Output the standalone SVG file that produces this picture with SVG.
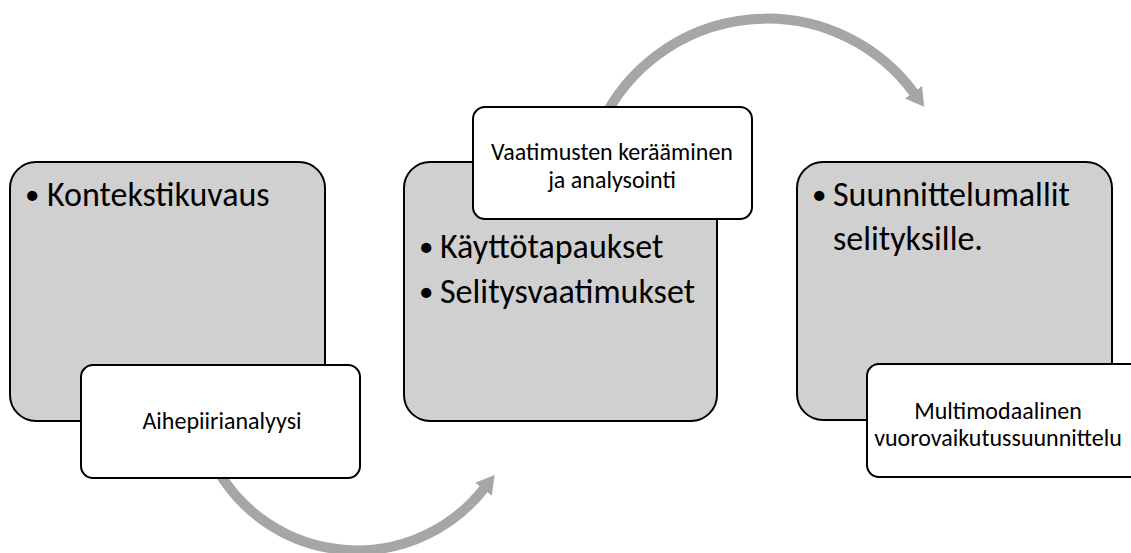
<svg xmlns="http://www.w3.org/2000/svg" width="1131" height="553" viewBox="0 0 1131 553">
<defs>
<marker id="head" markerUnits="userSpaceOnUse" markerWidth="18" markerHeight="22" viewBox="0 0 17 20" refX="0.5" refY="10" orient="auto">
<path d="M0,0 L17,10 L0,20 z" fill="#A6A6A6"/>
</marker>
<style>
.big{fill:#D0D0D0;stroke:#000;stroke-width:2}
.small{fill:#fff;stroke:#000;stroke-width:2}
.arc{fill:none;stroke:#A6A6A6;stroke-width:10;marker-end:url(#head)}
.t1{font-family:Carlito,Calibri,Lato,"Noto Sans",sans-serif;font-size:34px;fill:#000}
.b{font-size:29px}
.t2{font-family:Carlito,Calibri,Lato,"Noto Sans",sans-serif;font-size:24px;fill:#000;text-anchor:middle}
</style>
</defs>
<rect width="1131" height="553" fill="#fff"/>
<g id="connectors">
<path class="arc" d="M217.5,470 A161.3,161.3 0 0 0 483.8,488.8"/>
<path class="arc" d="M602,122 A183,183 0 0 1 913.8,92.7"/>
</g>
<g id="node-context">
<rect class="big" x="10" y="162" width="315" height="259" rx="26"/>
<text class="t1" x="25" y="206"><tspan class="b" dy="-2">•</tspan><tspan x="47" dy="2">Kontekstikuvaus</tspan></text>
</g>
<g id="node-aihepiiri">
<rect class="small" x="81" y="365" width="279" height="113" rx="12"/>
<text class="t2" x="222" y="429">Aihepiirianalyysi</text>
</g>
<g id="node-usecases">
<rect class="big" x="404" y="162" width="313" height="259" rx="26"/>
<text class="t1" x="419" y="258"><tspan class="b" dy="-2">•</tspan><tspan x="440" dy="2">Käyttötapaukset</tspan></text>
<text class="t1" x="419" y="303"><tspan class="b" dy="-2">•</tspan><tspan x="440" dy="2">Selitysvaatimukset</tspan></text>
</g>
<g id="node-vaatimukset">
<rect class="small" x="473" y="107" width="279" height="112" rx="12"/>
<text class="t2" x="612" y="160">Vaatimusten kerääminen</text>
<text class="t2" x="612" y="188">ja analysointi</text>
</g>
<g id="node-design">
<rect class="big" x="797" y="162" width="315" height="258" rx="26"/>
<text class="t1" x="812" y="206"><tspan class="b" dy="-2">•</tspan><tspan x="833" dy="2">Suunnittelumallit</tspan></text>
<text class="t1" x="833" y="250">selityksille.</text>
</g>
<g id="node-multimodal">
<rect class="small" x="867" y="364" width="279" height="113" rx="12"/>
<text class="t2" x="998" y="419">Multimodaalinen</text>
<text class="t2" x="998" y="446">vuorovaikutussuunnittelu</text>
</g>
</svg>
